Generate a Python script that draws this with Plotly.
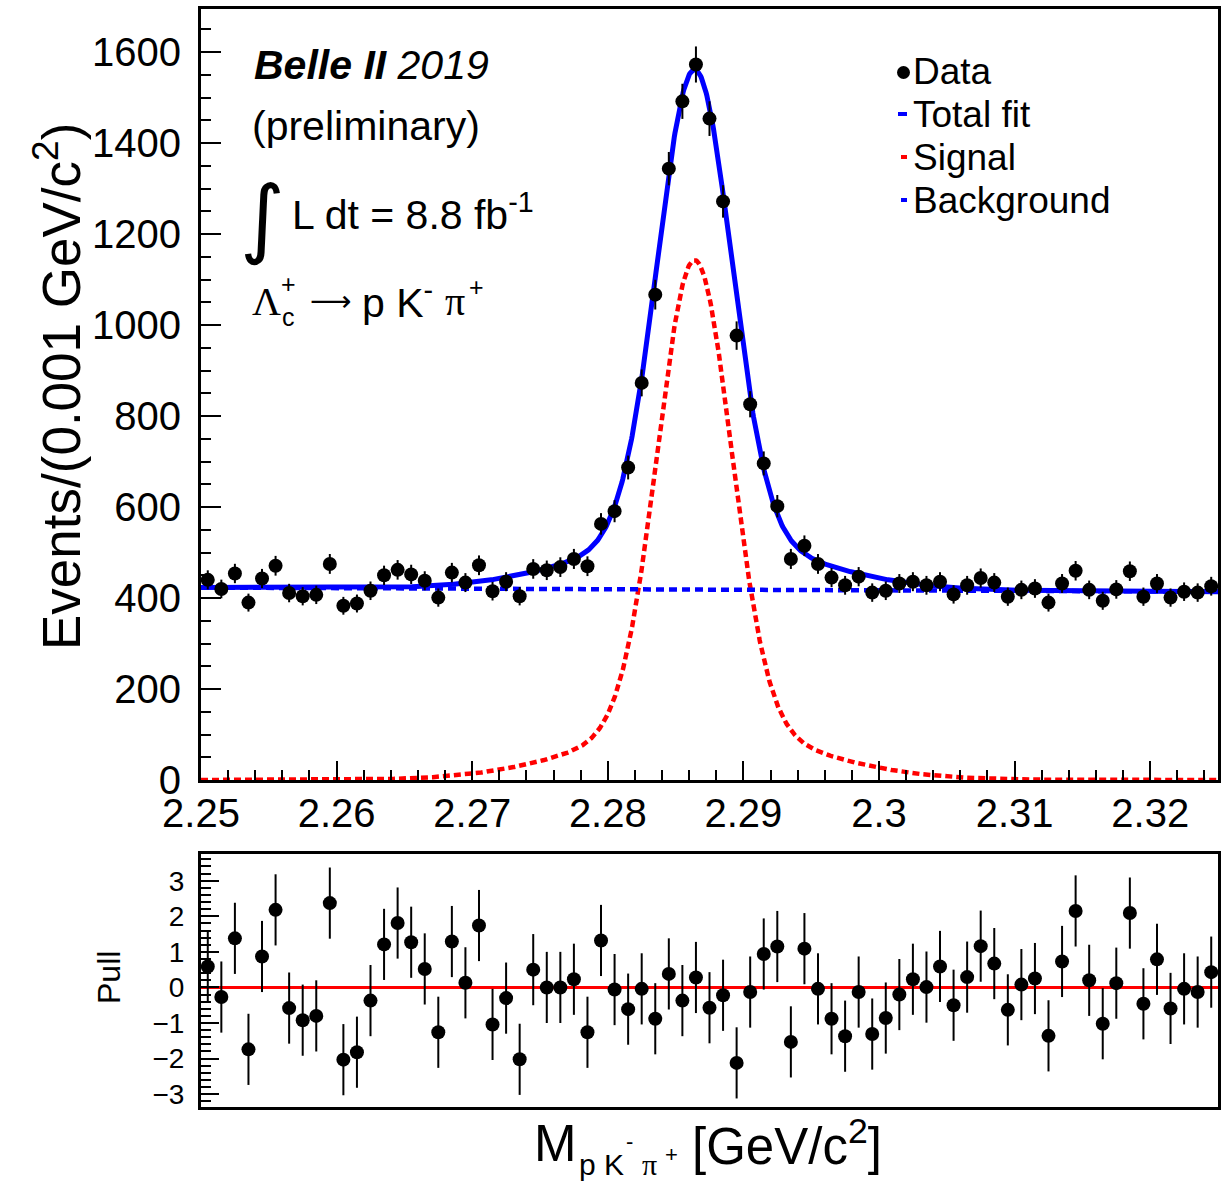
import numpy as np
import plotly.graph_objects as go

# ---------------------------------------------------------------
# Lambda_c+ -> p K- pi+ invariant mass, Belle II 2019 (8.8 fb^-1)
# ---------------------------------------------------------------

# Histogram binning: 0.001 GeV/c^2 bins between 2.250 and 2.325
mass_lo = 2.25
mass_hi = 2.325
bin_width = 0.001
mass = [round(mass_lo + bin_width * (i + 0.5), 4) for i in range(75)]

# Events per bin
counts = [440, 420, 454, 390, 443, 471, 411, 404, 407, 475,
          383, 388, 416, 450, 462, 452, 438, 401, 456, 434,
          472, 415, 436, 404, 464, 461, 468, 486, 470, 563,
          591, 687, 873, 1067, 1344, 1492, 1573, 1454, 1272, 977,
          826, 696, 602, 486, 515, 475, 445, 428, 447, 412,
          416, 432, 436, 428, 436, 408, 428, 444, 434, 403,
          418, 421, 390, 432, 460, 418, 394, 419, 459, 403,
          432, 401, 414, 412, 426]

# Fit pulls per bin
pulls = [0.59, -0.27, 1.38, -1.74, 0.87, 2.18, -0.58, -0.92, -0.80, 2.37,
         -2.03, -1.82, -0.37, 1.21, 1.81, 1.27, 0.52, -1.26, 1.29, 0.13,
         1.74, -1.04, -0.30, -2.02, 0.50, 0.00, 0.00, 0.23, -1.26, 1.32,
         -0.06, -0.61, -0.04, -0.88, 0.38, -0.37, 0.28, -0.57, -0.22, -2.12,
         -0.13, 0.94, 1.15, -1.53, 1.09, -0.04, -0.88, -1.37, -0.13, -1.31,
         -0.86, -0.20, 0.23, 0.01, 0.59, -0.50, 0.29, 1.16, 0.67, -0.63,
         0.08, 0.25, -1.36, 0.73, 2.15, 0.20, -1.02, 0.12, 2.09, -0.46,
         0.79, -0.59, -0.04, -0.13, 0.43]

# Fit model: double Gaussian signal on a linear background
sig_mean = 2.2864
sig_peak = 1143.0
core_sigma = 0.0027
core_frac = 0.90
tail_sigma = 0.0080
bkg_at_lo = 423.0
bkg_at_hi = 414.0

x_tick_vals = [2.25, 2.26, 2.27, 2.28, 2.29, 2.30, 2.31, 2.32]
x_tick_text = ["2.25", "2.26", "2.27", "2.28", "2.29", "2.3", "2.31", "2.32"]
y_tick_vals = [0, 200, 400, 600, 800, 1000, 1200, 1400, 1600]
pull_tick_vals = [-3, -2, -1, 0, 1, 2, 3]
pull_tick_text = ["\u22123", "\u22122", "\u22121", "0", "1", "2", "3"]

# ---------------------------------------------------------------
xs = np.linspace(mass_lo, mass_hi, 1501)
d = xs - sig_mean
signal = sig_peak * (core_frac * np.exp(-0.5 * (d / core_sigma) ** 2)
                     + (1 - core_frac) * np.exp(-0.5 * (d / tail_sigma) ** 2))
background = bkg_at_lo + (bkg_at_hi - bkg_at_lo) * (xs - mass_lo) / (mass_hi - mass_lo)
total = signal + background
counts_arr = np.array(counts, dtype=float)

W, H = 1231, 1181
FONT = "Liberation Sans, Arial, Helvetica, sans-serif"
SERIF = "Liberation Serif, Times New Roman, serif"


def px(xp):
    return xp / W


def py(yp):
    return 1 - yp / H


fig = go.Figure()

# upper panel: fit components and data
fig.add_trace(go.Scatter(x=xs, y=signal, mode="lines",
                         line=dict(color="#ff0000", width=4.5, dash="7px,4px"),
                         xaxis="x", yaxis="y", hoverinfo="skip"))
fig.add_trace(go.Scatter(x=xs, y=background, mode="lines",
                         line=dict(color="#0000ff", width=4.5, dash="8px,5px"),
                         xaxis="x", yaxis="y", hoverinfo="skip"))
fig.add_trace(go.Scatter(x=xs, y=total, mode="lines",
                         line=dict(color="#0000ff", width=5),
                         xaxis="x", yaxis="y", hoverinfo="skip"))
fig.add_trace(go.Scatter(x=mass, y=counts, mode="markers",
                         marker=dict(color="black", size=14),
                         error_y=dict(type="data", array=np.sqrt(counts_arr),
                                      thickness=2, width=0, color="black"),
                         xaxis="x", yaxis="y"))

# lower panel: pulls
fig.add_trace(go.Scatter(x=[mass_lo, mass_hi], y=[0, 0], mode="lines",
                         line=dict(color="#ff0000", width=3),
                         xaxis="x2", yaxis="y2", hoverinfo="skip"))
fig.add_trace(go.Scatter(x=mass, y=pulls, mode="markers",
                         marker=dict(color="black", size=14),
                         error_y=dict(type="constant", value=1.0,
                                      thickness=2, width=0, color="black"),
                         xaxis="x2", yaxis="y2"))

x_dom = [px(201), px(1218)]
axis_common = dict(showline=True, linewidth=3, linecolor="black", mirror=True,
                   showgrid=False, zeroline=False, automargin=False)

fig.update_layout(
    width=W, height=H, autosize=False,
    margin=dict(l=0, r=0, t=0, b=0, pad=0),
    paper_bgcolor="white", plot_bgcolor="white",
    showlegend=False,
    font=dict(family=FONT, color="black"),
    xaxis=dict(domain=x_dom, range=[mass_lo, mass_hi], anchor="y",
               tickmode="array", tickvals=x_tick_vals, ticktext=x_tick_text,
               ticks="inside", ticklen=19, tickwidth=2, tickcolor="black",
               minor=dict(tickmode="linear", tick0=mass_lo, dtick=0.002,
                          ticks="inside", ticklen=10, tickwidth=2, tickcolor="black"),
               tickfont=dict(size=40, family=FONT, color="black"),
               ticklabelstandoff=-4,
               **axis_common),
    yaxis=dict(domain=[py(780), py(9)], range=[0, 1695], anchor="x",
               tickmode="array", tickvals=y_tick_vals,
               ticktext=[str(v) for v in y_tick_vals],
               ticks="inside", ticklen=20, tickwidth=2, tickcolor="black",
               minor=dict(tickmode="linear", tick0=0, dtick=50,
                          ticks="inside", ticklen=10, tickwidth=2, tickcolor="black"),
               tickfont=dict(size=40, family=FONT, color="black"),
               ticklabelstandoff=9,
               **axis_common),
    xaxis2=dict(domain=x_dom, range=[mass_lo, mass_hi], anchor="y2",
                showticklabels=False, ticks="",
                **axis_common),
    yaxis2=dict(domain=[py(1107), py(854)], range=[-3.36, 3.75], anchor="x2",
                tickmode="array", tickvals=pull_tick_vals, ticktext=pull_tick_text,
                ticks="inside", ticklen=18, tickwidth=2, tickcolor="black",
                minor=dict(tickmode="linear", tick0=0, dtick=0.2,
                           ticks="inside", ticklen=10, tickwidth=2, tickcolor="black"),
                tickfont=dict(size=28, family=FONT, color="black"),
                ticklabelstandoff=8,
                **axis_common),
)

ann = []


def text(xp, yp, s, size, xanchor="left", family=FONT, angle=0):
    ann.append(dict(x=px(xp), y=py(yp), xref="paper", yref="paper",
                    text=s, showarrow=False, xanchor=xanchor, yanchor="middle",
                    textangle=angle,
                    font=dict(size=size, family=family, color="black")))


# experiment labels
text(252, 65, "<b><i>Belle II</i></b><i> 2019</i>", 41)
text(250, 126, "(preliminary)", 41)
text(238, 217, "\u222b", 86, family="DejaVu Sans")
text(290, 212, "L dt = 8.8 fb<sup>-1</sup>", 41)
text(250, 301, "\u039b", 40, family=SERIF)
text(279, 284, "+", 25)
text(280, 317, "c", 25)
text(308, 301, "\u27f6", 29, family="DejaVu Sans")
text(360, 300, "p K<sup>-</sup>", 41)
text(443, 301, "\u03c0", 40, family=SERIF)
text(467, 287, "+", 25)

# legend
text(911, 72, "Data", 37)
text(911, 114, "Total fit", 37)
text(911, 157, "Signal", 37)
text(911, 200, "Background", 37)

# axis titles
text(57, 387, "Events/(0.001 GeV/c<sup>2</sup>)", 53, xanchor="center", angle=-90)
text(109, 978, "Pull", 32, xanchor="center", angle=-90)
text(532, 1143, "M", 51)
text(577, 1164, "p K", 30)
text(624, 1141, "-", 22)
text(640, 1164, "\u03c0", 30, family=SERIF)
text(663, 1154, "+", 22)
text(690, 1143, "[GeV/c<sup>2</sup>]", 51)

fig.update_layout(annotations=ann)

# legend symbols
shapes = [
    dict(type="circle", xref="paper", yref="paper",
         x0=px(897), x1=px(910), y0=py(79), y1=py(66),
         fillcolor="black", line=dict(width=0)),
    dict(type="rect", xref="paper", yref="paper",
         x0=px(898), x1=px(907), y0=py(116), y1=py(112),
         fillcolor="#0000ff", line=dict(width=0)),
    dict(type="rect", xref="paper", yref="paper",
         x0=px(901), x1=px(907), y0=py(159), y1=py(155),
         fillcolor="#ff0000", line=dict(width=0)),
    dict(type="rect", xref="paper", yref="paper",
         x0=px(901), x1=px(907), y0=py(202), y1=py(198),
         fillcolor="#0000ff", line=dict(width=0)),
]
fig.update_layout(shapes=shapes)

fig.write_html("out.html")
